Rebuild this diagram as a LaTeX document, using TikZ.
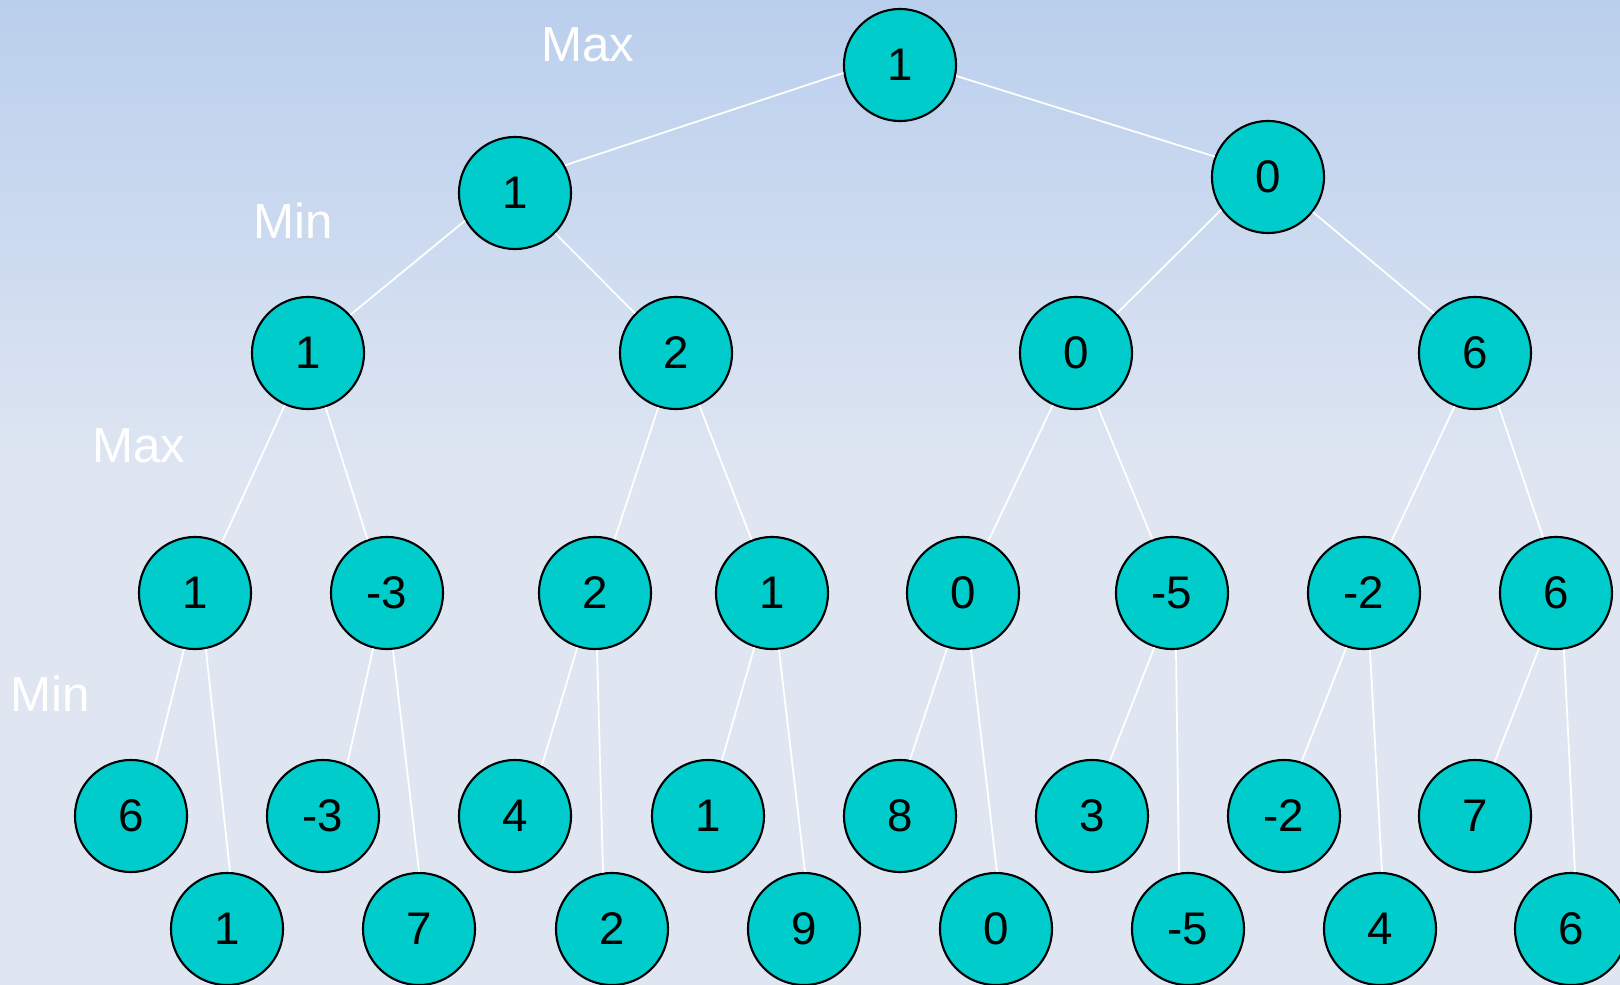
\documentclass[tikz,border=0pt]{standalone}
\usepackage{fontspec}
\setmainfont{Liberation Sans}
\usepackage{tikz}
\usetikzlibrary{positioning, backgrounds}
\definecolor{FondoAzul}{RGB}{186,207,237}
\definecolor{FondoClaro}{RGB}{223,230,242}
\definecolor{NodoCian}{RGB}{0,204,204}

\begin{document}
\begin{tikzpicture}[x=0.01cm, y=-0.01cm,
	estado/.style={circle, draw=black, line width=0.6pt, fill=NodoCian,
		minimum size=1.12cm, inner sep=0pt, font=\fontsize{13}{15}\selectfont},
	nivel/.style={text=white, font=\fontsize{14}{16}\selectfont},
	rama/.style={draw=white, line width=0.5pt}]

	% fondo
	\useasboundingbox (0,0) rectangle (1620,985);
	\shade[top color=FondoAzul, bottom color=FondoClaro] (0,0) rectangle (1620,480);
	\fill[FondoClaro] (0,479) rectangle (1620,985);

	% etiquetas de nivel
	\node[nivel] (max1) at (588,45) {Max};
	\node[nivel] (min1) at (293,221) {Min};
	\node[nivel] (max2) at (139,446) {Max};
	\node[nivel] (min2) at (50,694) {Min};

	% raiz y nivel 1
	\node[estado] (n) at (900,65) {1};
	\node[estado] (n1) at (515,193) {1};
	\node[estado] (n2) at (1268,177) {0};

	% nivel 2
	\node[estado] (n11) at (308,353) {1};
	\node[estado] (n12) at (676,353) {2};
	\node[estado] (n21) at (1076,353) {0};
	\node[estado] (n22) at (1475,353) {6};

	% nivel 3
	\node[estado] (n111) at (195,593) {1};
	\node[estado] (n112) at (387,593) {-3};
	\node[estado] (n121) at (595,593) {2};
	\node[estado] (n122) at (772,593) {1};
	\node[estado] (n211) at (963,593) {0};
	\node[estado] (n212) at (1172,593) {-5};
	\node[estado] (n221) at (1364,593) {-2};
	\node[estado] (n222) at (1556,593) {6};

	% hojas
	\node[estado] (h1) at (131,816) {6};
	\node[estado] (h2) at (227,929) {1};
	\node[estado] (h3) at (323,816) {-3};
	\node[estado] (h4) at (419,929) {7};
	\node[estado] (h5) at (515,816) {4};
	\node[estado] (h6) at (612,929) {2};
	\node[estado] (h7) at (708,816) {1};
	\node[estado] (h8) at (804,929) {9};
	\node[estado] (h9) at (900,816) {8};
	\node[estado] (h10) at (996,929) {0};
	\node[estado] (h11) at (1092,816) {3};
	\node[estado] (h12) at (1188,929) {-5};
	\node[estado] (h13) at (1284,816) {-2};
	\node[estado] (h14) at (1380,929) {4};
	\node[estado] (h15) at (1475,816) {7};
	\node[estado] (h16) at (1571,929) {6};

	% ramas
	\draw[rama] (n.188) -- (n1.29);
	\draw[rama] (n.-11) -- (n2.159);
	\draw[rama] (n1.209) -- (n11.42);
	\draw[rama] (n1.-45) -- (n12.136);
	\draw[rama] (n2.215) -- (n21.44);
	\draw[rama] (n2.-38) -- (n22.136);
	\draw[rama] (n11.-114) -- (n111.62);
	\draw[rama] (n11.-72) -- (n112.110);
	\draw[rama] (n12.-108) -- (n121.70);
	\draw[rama] (n12.-66) -- (n122.111);
	\draw[rama] (n21.-114) -- (n211.64);
	\draw[rama] (n21.-68) -- (n212.110);
	\draw[rama] (n22.-111) -- (n221.62);
	\draw[rama] (n22.-66) -- (n222.103);
	\draw[rama] (n111.-101) -- (h1.65);
	\draw[rama] (n111.-79) -- (h2.87);
	\draw[rama] (n112.-104) -- (h3.65);
	\draw[rama] (n112.-84) -- (h4.90);
	\draw[rama] (n121.-108) -- (h5.62);
	\draw[rama] (n121.-88) -- (h6.99);
	\draw[rama] (n122.-108) -- (h7.76);
	\draw[rama] (n122.-83) -- (h8.89);
	\draw[rama] (n211.-106) -- (h9.80);
	\draw[rama] (n211.-82) -- (h10.89);
	\draw[rama] (n212.-108) -- (h11.72);
	\draw[rama] (n212.-86) -- (h12.99);
	\draw[rama] (n221.-108) -- (h13.72);
	\draw[rama] (n221.-84) -- (h14.88);
	\draw[rama] (n222.-107) -- (h15.70);
	\draw[rama] (n222.-82) -- (h16.86);
\end{tikzpicture}
\end{document}
